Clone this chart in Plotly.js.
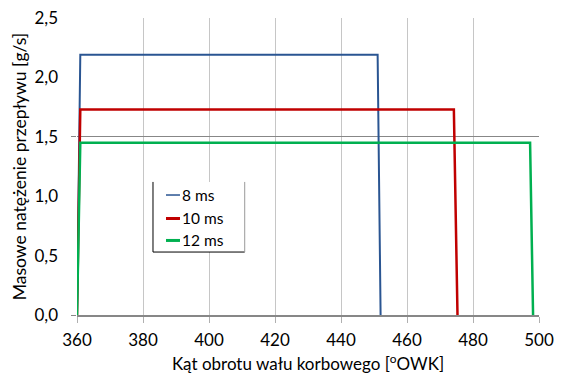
<!DOCTYPE html>
<html>
<head>
<meta charset="utf-8">
<script src="https://cdn.plot.ly/plotly-3.0.1.min.js"></script>
<style>html,body{margin:0;padding:0;background:#fff;}#chart{width:563px;height:374px;}</style>
</head>
<body>
<div id="chart"></div>
<script>
// Data
var seriesNames = ["8 ms", "10 ms", "12 ms"];
var x8  = [360, 361, 451.1, 452.0];
var y8  = [0, 2.19, 2.19, 0];
var x10 = [360, 361, 474.2, 475.3];
var y10 = [0, 1.73, 1.73, 0];
var x12 = [360, 361, 497.3, 498.2];
var y12 = [0, 1.45, 1.45, 0];
var xTicks = [360, 380, 400, 420, 440, 460, 480, 500];
var yTicks = [0, 0.5, 1.0, 1.5, 2.0, 2.5];
var yMarkedTicks = [0, 1.5];
var colors = ["#2a5592", "#c00000", "#00b050"];

var FONT = "Lato, 'Open Sans', sans-serif";
var lineWidths = [2, 2.5, 2.5];
var legendLineWidths = [1.5, 3, 3];
var traces = [
  {x: x8, y: y8, name: seriesNames[0]},
  {x: x10, y: y10, name: seriesNames[1]},
  {x: x12, y: y12, name: seriesNames[2]}
].map(function (t, i) {
  t.mode = "lines"; t.line = {color: colors[i], width: lineWidths[i]}; t.showlegend = false;
  return t;
});

// manual legend (box with left/bottom/right edges, short line samples)
var box = {x0: 0.1645, x1: 0.363, y0: 0.212, y1: 0.448};
var legY = [0.404, 0.325, 0.251];
var shapes = [
  {type: "rect", xref: "paper", yref: "paper", x0: box.x0, x1: box.x1, y0: box.y0, y1: box.y1,
   fillcolor: "#fff", line: {width: 0}, layer: "above"},
  {type: "line", xref: "paper", yref: "paper", x0: box.x0, x1: box.x0, y0: box.y0, y1: box.y1,
   line: {color: "#000", width: 1}, layer: "above"},
  {type: "line", xref: "paper", yref: "paper", x0: box.x0, x1: box.x1, y0: box.y0, y1: box.y0,
   line: {color: "#000", width: 1}, layer: "above"},
  {type: "line", xref: "paper", yref: "paper", x0: box.x1, x1: box.x1, y0: box.y0, y1: box.y1,
   line: {color: "#9a9a9a", width: 1}, layer: "above"}
];
var annotations = [];
seriesNames.forEach(function (name, i) {
  shapes.push({type: "line", xref: "paper", yref: "paper", x0: 0.1926, x1: 0.2229, y0: legY[i], y1: legY[i],
    line: {color: colors[i], width: legendLineWidths[i]}, layer: "above"});
  annotations.push({xref: "paper", yref: "paper", x: 0.2235, y: legY[i], xanchor: "left", yanchor: "middle",
    text: name, showarrow: false, font: {family: FONT, size: 15.5, color: "#000"}});
});

var layout = {
  width: 563, height: 374,
  margin: {l: 77, r: 24, t: 18, b: 59},
  paper_bgcolor: "#fff", plot_bgcolor: "#fff",
  separators: ", ",
  font: {family: FONT, size: 17, color: "#000"},
  showlegend: false,
  xaxis: {
    range: [360, 500], tickvals: xTicks, ticktext: xTicks.map(String),
    showgrid: true, gridcolor: "#c6c6c6", gridwidth: 1,
    showline: true, linecolor: "#878787", linewidth: 1.5,
    ticks: "outside", ticklen: 6, tickcolor: "#b0b0b0",
    zeroline: false, ticklabelstandoff: 3,
    tickfont: {family: FONT, size: 17},
    title: {text: "Kąt obrotu wału korbowego [<sup>o</sup>OWK]", font: {family: FONT, size: 17}, standoff: 15}
  },
  yaxis: {
    range: [0, 2.5], tickvals: yTicks, tickformat: ".1f",
    showgrid: false, showline: false, zeroline: false, ticks: "",
    ticklabelstandoff: 18,
    tickfont: {family: FONT, size: 17},
    title: {text: "Masowe natężenie przepływu [g/s]", font: {family: FONT, size: 17.5}, standoff: 3}
  },
  yaxis2: {
    overlaying: "y", side: "left", range: [0, 2.5], tickvals: yMarkedTicks,
    showticklabels: false, showgrid: true, gridcolor: "#878787", gridwidth: 1,
    ticks: "outside", ticklen: 5, tickcolor: "#878787", zeroline: false, showline: false
  },
  shapes: shapes,
  annotations: annotations
};

// invisible helper trace so yaxis2 is rendered
traces.push({x: [360], y: [0], yaxis: "y2", mode: "markers", marker: {opacity: 0}, showlegend: false, hoverinfo: "skip"});

Plotly.newPlot("chart", traces, layout, {staticPlot: true, displayModeBar: false});
</script>
</body>
</html>
